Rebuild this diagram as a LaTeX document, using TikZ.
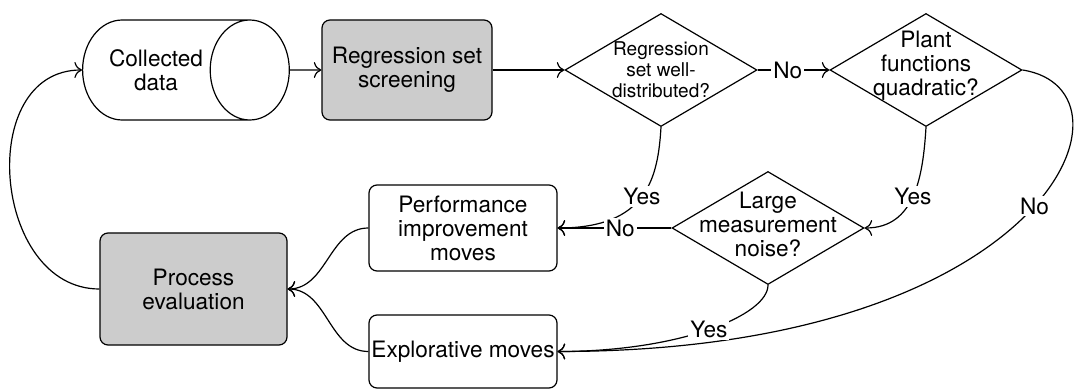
\documentclass[tikz,border=0pt]{standalone}
\usepackage{fontspec}
\setmainfont{TeX Gyre Heros}
\usetikzlibrary{positioning}
\usetikzlibrary{shapes.geometric}
\usetikzlibrary{arrows.meta}
\definecolor{boxGrey}{rgb}{0.8,0.8,0.8}

\begin{document}
\begin{tikzpicture}[x=0.5pt,y=-0.5pt]

          \tikzstyle{normalText} = [font=\fontsize{11.3}{12}\selectfont];
          \tikzstyle{smallText} = [font=\fontsize{9.5}{10.5}\selectfont];
          \tikzstyle{normalBox} = [draw, semithick, rounded corners=4pt, align=center, inner xsep=1pt, normalText];
          \tikzstyle{greyBox} = [normalBox, fill=boxGrey];
          \tikzstyle{dataNode} = [draw, semithick, cylinder, aspect=1.45, align=center, minimum height=84pt, minimum width=50pt, normalText];
          \tikzstyle{decisionNode} = [draw, semithick, diamond, inner sep=0pt, minimum width=96pt, minimum height=56.5pt];

          \tikzstyle{normalEdge} = [semithick, -{To[scale=1.3]}];
          \tikzstyle{edgeLabel} = [fill=white, inner sep=1pt, normalText];

          \useasboundingbox (0,0) rectangle (1078,390);

          \node[dataNode, anchor=west] (data) at (82,70) {Collected\\data};
          \node[greyBox, minimum width=85pt, minimum height=50pt] (screen) at (407,70) {Regression set\\screening};
          \node[decisionNode, label={[smallText, align=center]center:Regression\\set well-\\distributed?}] (wellDist) at (661,70) {};
          \node[decisionNode, label={[normalText, align=center, yshift=2pt]center:Plant\\functions\\quadratic?}] (quadratic) at (926,70) {};
          \node[decisionNode, label={[normalText, align=center, yshift=2pt]center:Large\\measurement\\noise?}] (noise) at (768,228) {};
          \node[normalBox, minimum width=94pt, minimum height=43pt] (perf) at (463,228) {Performance\\improvement\\moves};
          \node[normalBox, minimum width=94pt, minimum height=36.5pt] (explore) at (463,351.5) {Explorative moves};
          \node[greyBox, minimum width=93.5pt, minimum height=56pt] (eval) at (193.5,289) {Process\\evaluation};

          \draw[normalEdge] (data) -- (screen);
          \draw[normalEdge] (screen) -- (wellDist);
          \draw[normalEdge] (wellDist) -- node[edgeLabel, pos=0.42] {No} (quadratic);
          \draw[normalEdge] (wellDist.south) .. controls +(-3,50) and +(90,0) .. node[edgeLabel, pos=0.5] {Yes} (perf.east);
          \draw[normalEdge] (quadratic.south) .. controls +(-3,50) and +(50,0) .. node[edgeLabel, pos=0.5] {Yes} (noise.east);
          \draw[normalEdge] (quadratic.east) .. controls +(127,20) and +(493,0) .. node[edgeLabel, pos=0.47] {No} (explore.east);
          \draw[normalEdge] (noise.west) -- node[edgeLabel, pos=0.45] {No} (perf.east);
          \draw[normalEdge] (noise.south) .. controls +(0,30) and +(123,0) .. node[edgeLabel, pos=0.5] {Yes} (explore.east);
          \draw[normalEdge] (perf.west) to[out=180, in=0] (eval.east);
          \draw[normalEdge] (explore.west) to[out=180, in=0] (eval.east);
          \draw[normalEdge] (eval.west) to[out=180, in=180, looseness=1.25] (data.west);
        \end{tikzpicture}
\end{document}
